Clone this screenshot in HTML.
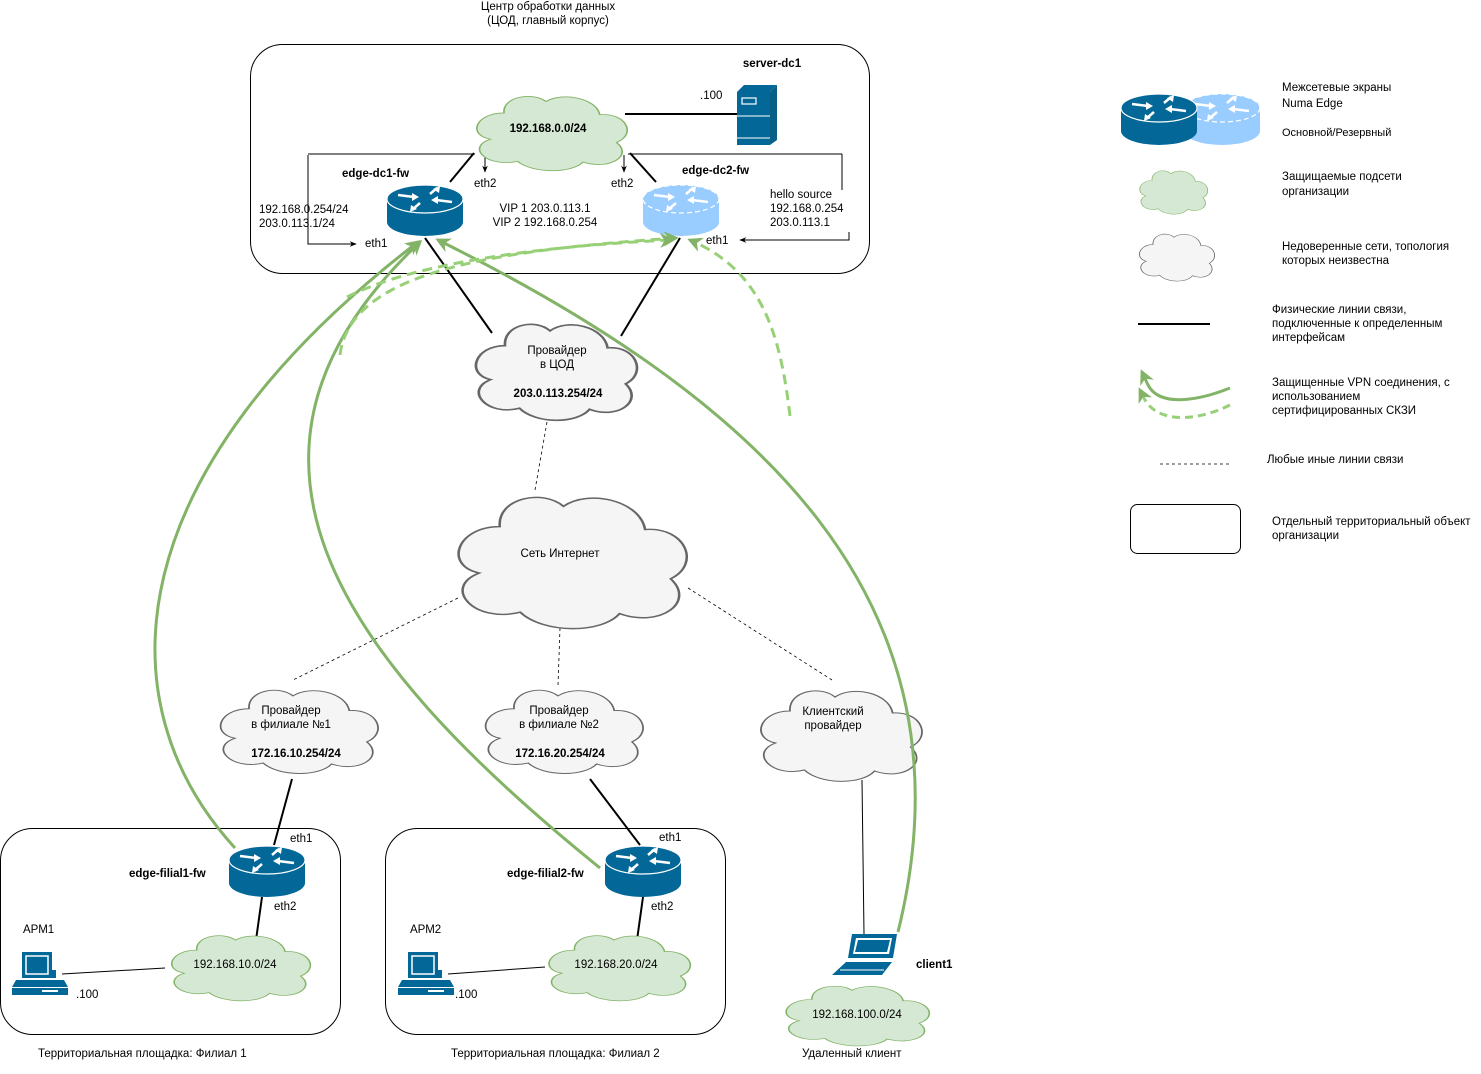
<!DOCTYPE html>
<html><head><meta charset="utf-8"><style>
html,body{margin:0;padding:0;background:#fff}
svg{display:block}
text{font-family:"Liberation Sans","DejaVu Sans",sans-serif;font-size:11.5px;fill:#000}
.b{font-weight:bold}
</style></head><body>
<svg width="1481" height="1074" viewBox="0 0 1481 1074" xmlns="http://www.w3.org/2000/svg">
<defs>
<path id="cl" d="M25,28 C8,28 3,55 17,60 C2,70 15,95 33,87 C42,102 65,102 72,88 C88,98 102,80 92,64 C104,54 98,28 82,30 C80,10 60,2 50,14 C42,2 24,8 25,28 Z"/>
<symbol id="rt" viewBox="0 0 78 54">
<path d="M1,15 L1,38 A38,14 0 0 0 77,38 L77,15 Z" fill="#036897"/>
<ellipse cx="39" cy="15" rx="38" ry="14" fill="#036897" stroke="#fff" stroke-width="1.2"/>
<g stroke="#fff" stroke-width="2.5" fill="#fff">
<line x1="12" y1="11" x2="28" y2="13"/><polygon points="33,13 26,9 26,17" stroke="none"/>
<line x1="66" y1="18" x2="50" y2="16"/><polygon points="45,16 52,12 52,20" stroke="none"/>
<line x1="34" y1="19" x2="27" y2="25"/><polygon points="24,28 25,21 31,25" stroke="none"/>
<line x1="44" y1="10" x2="51" y2="4"/><polygon points="54,2 53,9 47,5" stroke="none"/>
</g>
</symbol>
<symbol id="rtb" viewBox="0 0 78 54">
<path d="M1,15 L1,38 A38,14 0 0 0 77,38 L77,15 Z" fill="#99ccff"/>
<ellipse cx="39" cy="15" rx="38" ry="14" fill="#99ccff" stroke="#fff" stroke-width="1.2" stroke-dasharray="5 3"/>
<g stroke="#fff" stroke-width="2.5" fill="#fff">
<line x1="12" y1="11" x2="28" y2="13"/><polygon points="33,13 26,9 26,17" stroke="none"/>
<line x1="66" y1="18" x2="50" y2="16"/><polygon points="45,16 52,12 52,20" stroke="none"/>
<line x1="34" y1="19" x2="27" y2="25"/><polygon points="24,28 25,21 31,25" stroke="none"/>
<line x1="44" y1="10" x2="51" y2="4"/><polygon points="54,2 53,9 47,5" stroke="none"/>
</g>
</symbol>
<symbol id="pc" viewBox="0 0 56 46">
<rect x="10" y="2" width="30" height="26" fill="#036897"/><rect x="14" y="6" width="22" height="18" fill="#036897" stroke="#fff" stroke-width="1.5"/>
<rect x="40" y="20" width="4" height="8" fill="#036897"/>
<polygon points="4,30 52,30 56,37 0,37" fill="#036897"/>
<rect x="0" y="38" width="56" height="7" fill="#036897"/><rect x="30" y="40" width="16" height="2" fill="#fff"/>
</symbol>
<marker id="ag" viewBox="0 0 10 10" refX="8" refY="5" markerWidth="5" markerHeight="5" orient="auto"><path d="M0,0 L10,5 L0,10 L3,5 Z" fill="#82b366"/></marker>
<marker id="ab" viewBox="0 0 10 10" refX="9" refY="5" markerWidth="7" markerHeight="7" orient="auto"><path d="M0,1 L10,5 L0,9 L3,5 Z" fill="#000"/></marker>
</defs>

<!-- boxes -->
<rect x="250.5" y="44.5" width="619" height="229" rx="32" fill="none" stroke="#000"/>
<rect x="0.5" y="828.5" width="340" height="206" rx="32" fill="none" stroke="#000"/>
<rect x="385.5" y="828.5" width="340" height="206" rx="32" fill="none" stroke="#000"/>
<text x="548" y="10" text-anchor="middle">Центр  обработки данных</text>
<text x="548" y="24" text-anchor="middle">(ЦОД, главный корпус)</text>

<!-- dotted links -->
<g stroke="#000" stroke-dasharray="3 3" stroke-width="0.8" fill="none">
<line x1="547" y1="422" x2="535" y2="490"/>
<line x1="458" y1="598" x2="293" y2="680"/>
<line x1="560" y1="628" x2="558" y2="685"/>
<line x1="688" y1="588" x2="832" y2="680"/>
</g>
<!-- physical links -->
<g stroke="#000" stroke-width="2" fill="none">
<line x1="625" y1="114" x2="737" y2="114"/>
<line x1="425" y1="238" x2="492" y2="333"/>
<line x1="680" y1="238" x2="621" y2="336"/>
<line x1="474" y1="153" x2="450" y2="182"/>
<line x1="630" y1="153" x2="656" y2="182"/>
<line x1="292" y1="779" x2="274" y2="845"/>
<line x1="590" y1="779" x2="640" y2="845"/>
<line x1="262" y1="897" x2="256" y2="940"/>
<line x1="643" y1="897" x2="637" y2="940"/>
</g>
<g stroke="#000" stroke-width="1" fill="none">
<line x1="62" y1="974" x2="165" y2="968"/>
<line x1="448" y1="974" x2="545" y2="967"/>
<line x1="862" y1="780" x2="864" y2="934"/>
<polyline points="485,153 485,172" marker-end="url(#ab)"/>
<polyline points="624,155 624,172" marker-end="url(#ab)"/>
<polyline points="308,155 308,244 356,244" marker-end="url(#ab)"/>
<line x1="308" y1="154" x2="475" y2="154"/>
<line x1="628" y1="154" x2="842" y2="154"/>
<polyline points="842,154 842,190"/>
<polyline points="849,232 849,240 740,240" marker-end="url(#ab)"/>
</g>

<!-- clouds -->
<g stroke-width="1">
<use href="#cl" transform="translate(462,90) scale(1.68,0.82)" fill="#d5e8d4" stroke="#82b366" vector-effect="non-scaling-stroke"/>
<use href="#cl" transform="translate(460,316) scale(1.8,1.06)" fill="#f5f5f5" stroke="#666" style="stroke-width:1.5"/>
<use href="#cl" transform="translate(436,486) scale(2.55,1.45)" fill="#f5f5f5" stroke="#666"/>
<use href="#cl" transform="translate(205,683) scale(1.76,0.92)" fill="#f5f5f5" stroke="#666"/>
<use href="#cl" transform="translate(470,683) scale(1.76,0.92)" fill="#f5f5f5" stroke="#666"/>
<use href="#cl" transform="translate(745,683) scale(1.8,1.0)" fill="#f5f5f5" stroke="#666"/>
<use href="#cl" transform="translate(158,930) scale(1.55,0.72)" fill="#d5e8d4" stroke="#82b366"/>
<use href="#cl" transform="translate(535,930) scale(1.58,0.72)" fill="#d5e8d4" stroke="#82b366"/>
<use href="#cl" transform="translate(772,981) scale(1.6,0.66)" fill="#d5e8d4" stroke="#82b366"/>
<use href="#cl" transform="translate(1133,167) scale(0.76,0.48)" fill="#d5e8d4" stroke="#82b366"/>
<use href="#cl" transform="translate(1132,230) scale(0.84,0.52)" fill="#f5f5f5" stroke="#666"/>
</g>

<!-- server -->
<g>
<polygon points="737,92 744,85 777,85 770,92" fill="#036897"/>
<polygon points="770,92 777,85 777,140 770,145" fill="#0a5f86"/>
<rect x="737" y="92" width="33" height="53" fill="#036897"/>
<rect x="742" y="98" width="14" height="6" fill="none" stroke="#fff" stroke-width="1.2"/>
<line x1="737" y1="116" x2="770" y2="116" stroke="#fff"/>
<line x1="737" y1="138" x2="770" y2="138" stroke="#fff"/>
</g>

<!-- routers -->
<use href="#rt" x="386" y="184" width="78" height="54"/>
<use href="#rtb" x="642" y="184" width="78" height="54"/>
<use href="#rt" x="228" y="845" width="78" height="54"/>
<use href="#rt" x="604" y="845" width="78" height="54"/>
<use href="#rtb" x="1183" y="93" width="78" height="54"/>
<use href="#rt" x="1120" y="93" width="78" height="54"/>

<!-- PCs -->
<use href="#pc" x="12" y="950" width="56" height="46"/>
<use href="#pc" x="398" y="950" width="56" height="46"/>
<!-- laptop -->
<g>
<polygon points="852,934 897,934 893,958 848,958" fill="#036897"/>
<polygon points="856,938 892,938 889,954 853,954" fill="#fff"/>
<polygon points="858,940 890,940 887,952 855,952" fill="#036897"/>
<polygon points="846,962 892,962 882,975 832,975" fill="#036897"/>
<line x1="840" y1="970" x2="884" y2="970" stroke="#fff"/>
</g>

<!-- VPN links -->
<g stroke="#82b366" stroke-width="3" fill="none" marker-end="url(#ag)">
<path d="M235,848 C100,700 120,470 418,242"/>
<path d="M600,868 C330,650 200,450 420,242"/>
<path d="M898,932 C980,600 760,400 438,240"/>
</g>
<g stroke="#97d077" stroke-width="3" fill="none" stroke-dasharray="10 6" marker-end="url(#ag)">
<path d="M340,355 C350,270 500,250 676,238"/>
<path d="M347,297 C420,260 560,245 672,240"/>
<path d="M790,416 C780,330 760,270 690,240"/>
</g>

<!-- legend -->
<line x1="1138" y1="324" x2="1210" y2="324" stroke="#000" stroke-width="2"/>
<path d="M1230,388 C1200,400 1160,408 1148,385 L1142,372" stroke="#82b366" stroke-width="3" fill="none" marker-end="url(#ag)"/>
<path d="M1230,405 C1200,420 1160,425 1145,400 L1140,390" stroke="#97d077" stroke-width="3" fill="none" stroke-dasharray="8 5" marker-end="url(#ag)"/>
<line x1="1160" y1="464" x2="1230" y2="464" stroke="#000" stroke-dasharray="3 3" stroke-width="0.8"/>
<rect x="1130.5" y="504.5" width="110" height="49" rx="7" fill="none" stroke="#000"/>
<g style="font-size:12px">
<text x="1282" y="91">Межсетевые экраны</text>
<text x="1282" y="107">Numa Edge</text>
<text x="1282" y="136" style="font-size:11px">Основной/Резервный</text>
<text x="1282" y="180">Защищаемые подсети</text>
<text x="1282" y="195">организации</text>
</g>
<g style="font-size:11px">
<text x="1282" y="250">Недоверенные сети, топология</text>
<text x="1282" y="264">которых неизвестна</text>
<text x="1272" y="313">Физические линии связи,</text>
<text x="1272" y="327">подключенные к определенным</text>
<text x="1272" y="341">интерфейсам</text>
<text x="1272" y="386">Защищенные VPN соединения, с</text>
<text x="1272" y="400">использованием</text>
<text x="1272" y="414">сертифицированных СКЗИ</text>
<text x="1267" y="463">Любые иные линии связи</text>
<text x="1272" y="525">Отдельный территориальный объект</text>
<text x="1272" y="539">организации</text>
</g>

<!-- labels -->
<text x="548" y="132" text-anchor="middle" class="b">192.168.0.0/24</text>
<text x="772" y="67" text-anchor="middle" class="b">server-dc1</text>
<text x="700" y="99">.100</text>
<text x="342" y="177" class="b">edge-dc1-fw</text>
<text x="682" y="174" class="b">edge-dc2-fw</text>
<text x="474" y="187">eth2</text>
<text x="611" y="187">eth2</text>
<text x="259" y="213">192.168.0.254/24</text>
<text x="259" y="227">203.0.113.1/24</text>
<text x="365" y="247">eth1</text>
<text x="545" y="212" text-anchor="middle">VIP 1 203.0.113.1</text>
<text x="545" y="226" text-anchor="middle">VIP 2 192.168.0.254</text>
<text x="770" y="198">hello source</text>
<text x="770" y="212">192.168.0.254</text>
<text x="770" y="226">203.0.113.1</text>
<text x="706" y="244">eth1</text>
<text x="557" y="354" text-anchor="middle">Провайдер</text>
<text x="557" y="368" text-anchor="middle">в ЦОД</text>
<text x="558" y="397" text-anchor="middle" class="b">203.0.113.254/24</text>
<text x="560" y="557" text-anchor="middle">Сеть Интернет</text>
<text x="291" y="714" text-anchor="middle">Провайдер</text>
<text x="291" y="728" text-anchor="middle">в филиале №1</text>
<text x="296" y="757" text-anchor="middle" class="b">172.16.10.254/24</text>
<text x="559" y="714" text-anchor="middle">Провайдер</text>
<text x="559" y="728" text-anchor="middle">в филиале №2</text>
<text x="560" y="757" text-anchor="middle" class="b">172.16.20.254/24</text>
<text x="833" y="715" text-anchor="middle">Клиентский</text>
<text x="833" y="729" text-anchor="middle">провайдер</text>
<text x="290" y="842">eth1</text>
<text x="129" y="877" class="b">edge-filial1-fw</text>
<text x="274" y="910">eth2</text>
<text x="23" y="933">АРМ1</text>
<text x="76" y="998">.100</text>
<text x="235" y="968" text-anchor="middle">192.168.10.0/24</text>
<text x="659" y="841">eth1</text>
<text x="507" y="877" class="b">edge-filial2-fw</text>
<text x="651" y="910">eth2</text>
<text x="410" y="933">АРМ2</text>
<text x="455" y="998">.100</text>
<text x="616" y="968" text-anchor="middle">192.168.20.0/24</text>
<text x="916" y="968" class="b">client1</text>
<text x="857" y="1018" text-anchor="middle">192.168.100.0/24</text>
<text x="38" y="1057">Территориальная площадка: Филиал 1</text>
<text x="451" y="1057">Территориальная площадка: Филиал 2</text>
<text x="802" y="1057">Удаленный клиент</text>
</svg>
</body></html>
